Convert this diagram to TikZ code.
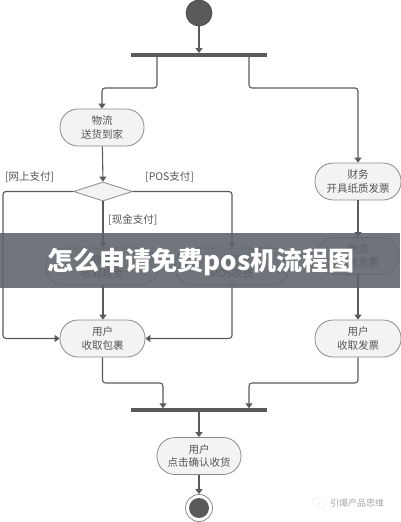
\documentclass[tikz,border=0pt]{standalone}
\usepackage{fontspec}
\newfontfamily\cjk{Noto Sans CJK SC}
\usetikzlibrary{arrows.meta,shapes.geometric}
\definecolor{ln}{HTML}{5A5A5A}
\definecolor{tx}{HTML}{555555}
\definecolor{nf}{HTML}{F3F3F3}
\definecolor{nb}{HTML}{8A8A8A}
\definecolor{band}{RGB}{92,99,105}
\tikzset{
  act/.style={draw=nb, fill=nf, line width=0.8pt, rectangle, rounded corners=18pt,
    minimum height=37pt, inner sep=0pt, align=center, text=tx,
    font=\cjk\fontsize{10.5}{13.5}\selectfont},
  guard/.style={text=tx, inner sep=0pt, anchor=west, font=\cjk\fontsize{10.5}{12}\selectfont},
  flow/.style={draw=ln, line width=1.1pt, rounded corners=3pt,
    -{Triangle[length=5pt,width=7pt]}},
  bar/.style={fill=ln, draw=none, rectangle, minimum width=136pt, minimum height=3.5pt, inner sep=0pt},
}
\begin{document}
\begin{tikzpicture}[x=1pt,y=-1pt]
\useasboundingbox (0,0) rectangle (400,522);
% start
\node[circle, fill=ln, draw=ln!70!black, line width=0.6pt, minimum size=26pt, inner sep=0pt] (start) at (199,13) {};
\node[bar] (fork) at (199,55) {};
\coordinate (forkL) at (157,55);
\coordinate (forkR) at (249,55);
% left column
\node[act, minimum width=84pt] (ship) at (102,127.5) {物流\\送货到家};
\node[diamond, draw=nb, fill=nf, line width=0.8pt, minimum width=59pt, minimum height=19pt, inner sep=0pt] (dec) at (103,191.5) {};
\node[act, minimum width=113pt] (cash) at (102,266.5) {物流\\收取现金};
\node[act, minimum width=115pt] (pos) at (232,266.5) {物流\\POS收钱};
\node[act, minimum width=85pt] (pkg) at (102.5,338.5) {用户\\收取包裹};
% right column
\node[act, minimum width=86pt] (fin) at (358,181.5) {财务\\开具纸质发票};
\node[act, minimum width=82pt] (inv) at (358,256) {物流\\配送发票};
\node[act, minimum width=86pt] (rinv) at (358,338.5) {用户\\收取发票};
% join
\node[bar] (join) at (199,410) {};
\node[act, minimum width=84pt] (conf) at (199,456) {用户\\点击确认收货};
\node[circle, draw=nb, fill=white, line width=0.8pt, minimum size=27pt, inner sep=0pt] (end) at (199,508) {};
\node[circle, fill=ln, minimum size=20pt, inner sep=0pt] (endin) at (end.center) {};
% guards
\node[guard] (g1) at (5,177) {[网上支付]};
\node[guard] (g2) at (145,177) {[POS支付]};
\node[guard] (g3) at (108,220) {[现金支付]};
% connectors
\draw[flow] (start) -- (fork);
\draw[flow] (forkL) -- (157,88) -- (102,88) -- (ship.north);
\draw[flow] (forkR) -- (249,88) -- (358,88) -- (fin.north);
\draw[flow] (ship) -- (dec.north);
\draw[flow] (dec.west) -- (3,191.5) -- (3,338.5) -- (pkg.west);
\draw[flow] (dec.east) -- (232,191.5) -- (pos.north);
\draw[flow] (dec.south) -- (cash.north -| dec.south);
\draw[flow] (cash.south -| dec.south) -- (pkg.north -| dec.south);
\draw[flow] (pos.south) -- (232,338.5) -- (pkg.east);
\draw[flow] (fin) -- (inv);
\draw[flow] (inv) -- (rinv);
\draw[flow] (pkg.south) -- (102.5,383) -- (163,383) -- (163,408.25);
\draw[flow] (rinv.south) -- (358,383) -- (249,383) -- (249,408.25);
\draw[flow] (join) -- (conf);
\draw[flow] (conf) -- (end);
% watermark
\draw[black!25, line width=0.5pt, dotted] (316,501) ellipse (4pt and 3.5pt);
\draw[black!25, line width=0.5pt, dotted] (322,505) ellipse (3.5pt and 3pt);
\node[text=black!35, inner sep=0pt, anchor=west, font=\cjk\fontsize{9}{10}\selectfont] (wm) at (330,503) {引爆产品思维};
% banner
\fill[band, fill opacity=0.88] (0,233) rectangle (400,288);
\node[text=white, inner sep=0pt, font=\cjk\bfseries\fontsize{26}{28}\selectfont] (title) at (201,262) {怎么申请免费pos机流程图};
\end{tikzpicture}
\end{document}
